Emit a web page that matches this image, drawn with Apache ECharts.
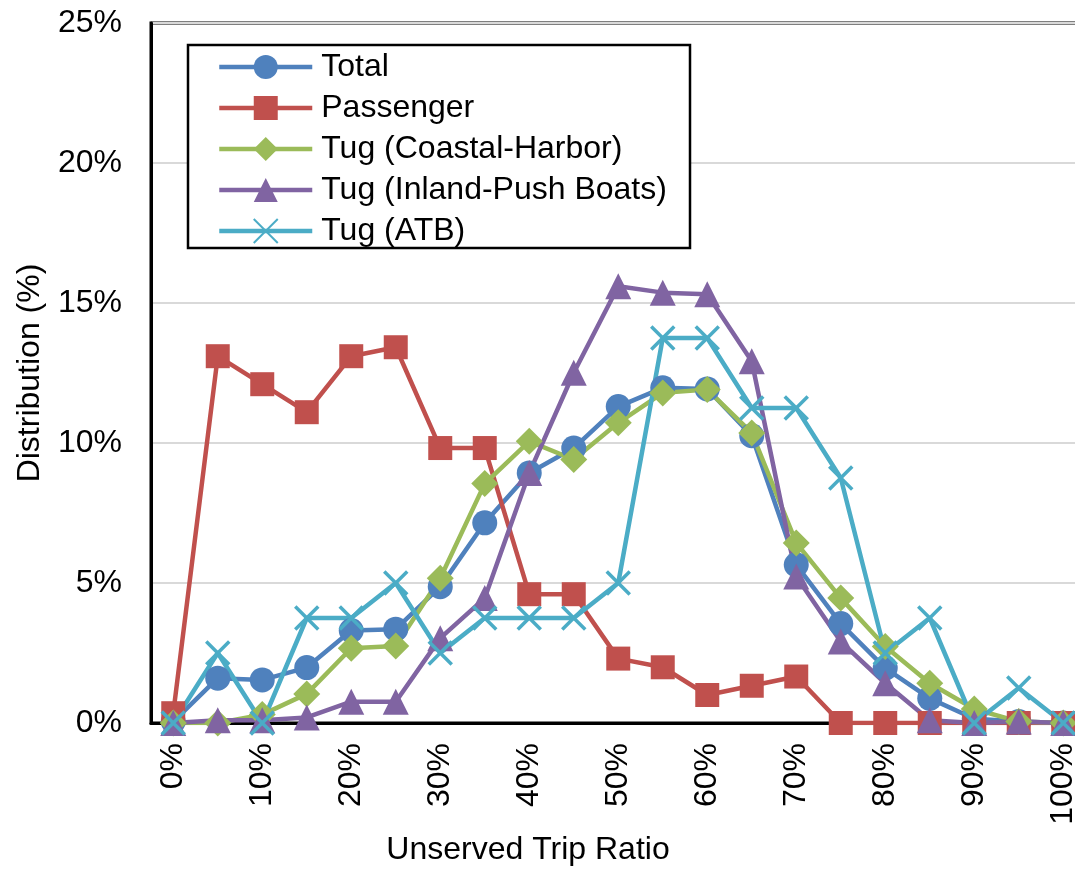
<!DOCTYPE html>
<html>
<head>
<meta charset="utf-8">
<title>Unserved Trip Ratio Distribution</title>
<script src="https://cdn.jsdelivr.net/npm/echarts@6/dist/echarts.min.js"></script>
<style>
  html, body { margin: 0; padding: 0; background: #fff; }
  #chart { width: 1075px; height: 869px; }
</style>
</head>
<body>
<div id="chart"></div>
<script>
// Unserved trip ratio bins (x axis)
const categories = ['0%', '5%', '10%', '15%', '20%', '25%', '30%', '35%', '40%', '45%', '50%',
  '55%', '60%', '65%', '70%', '75%', '80%', '85%', '90%', '95%', '100%'];

// Distribution of vessels per bin, in percent
const total = [0.05, 1.6, 1.54, 1.98, 3.3, 3.35, 4.87, 7.15, 8.93, 9.82, 11.3,
  11.97, 11.93, 10.26, 5.65, 3.55, 1.96, 0.88, 0.15, 0.05, 0];
const passenger = [0.35, 13.1, 12.1, 11.1, 13.1, 13.42, 9.82, 9.82, 4.6, 4.6, 2.3,
  1.99, 1.0, 1.33, 1.66, 0, 0, 0, 0, 0, 0];
const tugCoastal = [0, 0, 0.3, 1.04, 2.67, 2.75, 5.17, 8.55, 10.06, 9.41, 10.72,
  11.79, 11.91, 10.36, 6.43, 4.46, 2.73, 1.42, 0.5, 0.05, 0];
const tugInland = [0, 0.1, 0.1, 0.2, 0.76, 0.76, 3.03, 4.46, 8.93, 12.51, 15.6,
  15.37, 15.31, 12.92, 5.23, 2.91, 1.42, 0.1, 0, 0.05, 0];
const tugATB = [0, 2.5, 0, 3.75, 3.75, 5, 2.5, 3.75, 3.75, 3.75, 5,
  13.75, 13.75, 11.25, 11.25, 8.75, 2.5, 3.75, 0, 1.25, 0];

const seriesNames = ['Total', 'Passenger', 'Tug (Coastal-Harbor)', 'Tug (Inland-Push Boats)', 'Tug (ATB)'];
const seriesData = [total, passenger, tugCoastal, tugInland, tugATB];
const colors = ['#4F81BD', '#C0504D', '#9BBB59', '#8064A2', '#4BACC6'];
const symbols = ['circle', 'rect', 'diamond', 'triangle', 'path://M0,0L10,10M10,0L0,10'];
const symbolSizes = [25, 24, 27, 26, 23];

const FONT = "'Liberation Sans', Arial, Helvetica, sans-serif";
const FS = 32;

const series = seriesNames.map((name, i) => {
  const isCross = i === 4;
  return {
    name: name,
    type: 'line',
    data: seriesData[i],
    symbol: symbols[i],
    symbolSize: symbolSizes[i],
    showAllSymbol: true,
    lineStyle: { color: colors[i], width: 4.5 },
    itemStyle: isCross
      ? { color: colors[i], borderColor: colors[i], borderWidth: 3.5 }
      : { color: colors[i], borderWidth: 0 },
    emphasis: { disabled: true }
  };
});

const chart = echarts.init(document.getElementById('chart'), null, { renderer: 'canvas' });
chart.setOption({
  animation: false,
  backgroundColor: '#fff',
  textStyle: { fontFamily: FONT },
  grid: {
    left: 151, top: 23, width: 934.5, height: 700,
    outerBoundsMode: 'none',
    containLabel: false,
    show: true, borderColor: '#000', borderWidth: 3, backgroundColor: 'transparent'
  },
  xAxis: {
    type: 'category',
    data: categories,
    boundaryGap: true,
    axisLine: { show: true, lineStyle: { color: '#000', width: 3 } },
    axisTick: { show: false },
    axisLabel: {
      interval: 1, rotate: 90, margin: 20,
      fontSize: FS, color: '#000', fontFamily: FONT
    },
    splitLine: { show: false }
  },
  yAxis: {
    type: 'value',
    min: 0, max: 25, interval: 5,
    axisLine: { show: true, lineStyle: { color: '#000', width: 3 } },
    axisTick: { show: false },
    axisLabel: {
      formatter: '{value}%', margin: 29,
      fontSize: FS, color: '#000', fontFamily: FONT
    },
    splitLine: { show: true, lineStyle: { color: '#D9D9D9', width: 2 } }
  },
  legend: {
    orient: 'vertical',
    left: 217, top: 51,
    padding: 0,
    itemWidth: 93, itemHeight: 30, itemGap: 9,
    selectedMode: false,
    lineStyle: { width: 4.5 },
    textStyle: { fontSize: FS, lineHeight: 30, color: '#000', fontFamily: FONT, padding: [0, 0, 0, 4] },
    data: seriesNames
  },
  graphic: [
    {
      type: 'rect', z: 3,
      shape: { x: 188, y: 45, width: 502, height: 203 },
      style: { fill: '#fff', stroke: '#000', lineWidth: 2.5 }
    },
    {
      type: 'text', z: 5,
      x: 528, y: 850,
      style: { text: 'Unserved Trip Ratio', fontSize: FS, fontFamily: FONT, fill: '#000',
        align: 'center', verticalAlign: 'middle' }
    },
    {
      type: 'text', z: 5,
      x: 30, y: 373, rotation: Math.PI / 2,
      style: { text: 'Distribution (%)', fontSize: FS, fontFamily: FONT, fill: '#000',
        align: 'center', verticalAlign: 'middle' }
    }
  ],
  series: series
});
</script>
</body>
</html>
